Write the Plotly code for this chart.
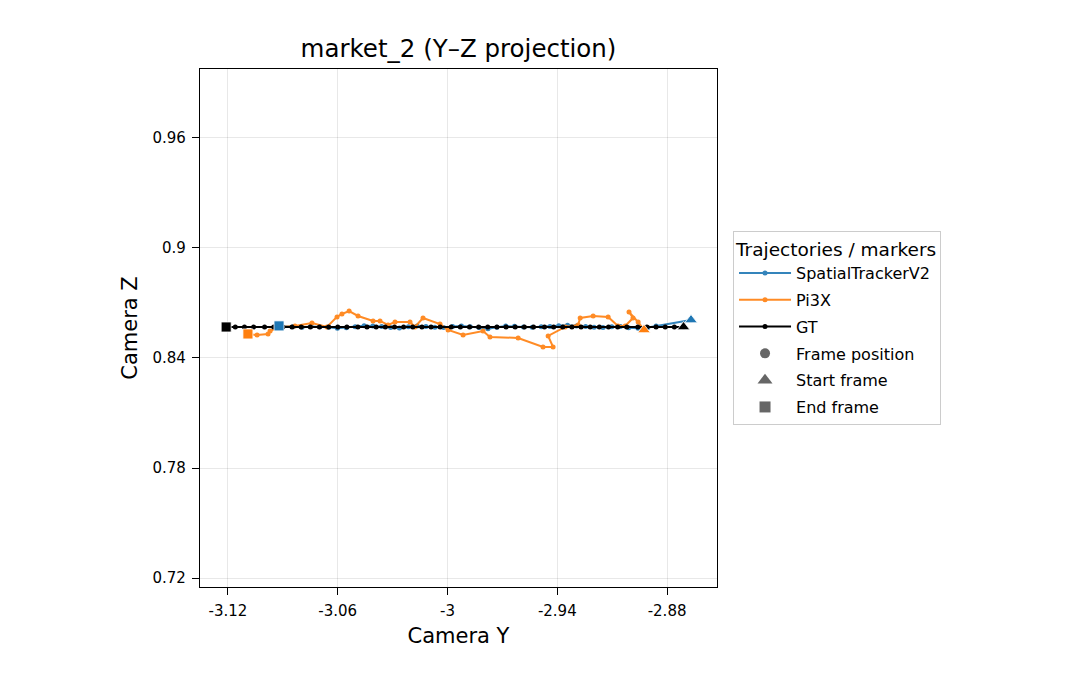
import plotly.graph_objects as go

# ---------------- data ----------------
gt_y = [-2.871, -2.876, -2.881, -2.886, -2.891, -2.896, -2.902, -2.907, -2.912, -2.917,
        -2.922, -2.927, -2.932, -2.937, -2.942, -2.947, -2.953, -2.958, -2.963, -2.968,
        -2.973, -2.978, -2.983, -2.988, -2.993, -2.998, -3.004, -3.009, -3.014, -3.019,
        -3.024, -3.029, -3.034, -3.039, -3.044, -3.049, -3.055, -3.060, -3.065, -3.070,
        -3.075, -3.080, -3.085, -3.090, -3.095, -3.100, -3.106, -3.111, -3.116, -3.121]
gt_z = [0.8569] * 50

st_y = [-2.8669, -2.8860, -2.8905, -2.8958, -2.9010, -2.9055, -2.9102, -2.9150, -2.9199, -2.9245,
        -2.9295, -2.9344, -2.9392, -2.9440, -2.9488, -2.9537, -2.9585, -2.9634, -2.9682, -2.9730,
        -2.9779, -2.9827, -2.9876, -2.9924, -2.9972, -3.0021, -3.0069, -3.0118, -3.0166, -3.0214,
        -3.0263, -3.0311, -3.0360, -3.0408, -3.0456, -3.0505, -3.0553, -3.0602, -3.0650, -3.0698,
        -3.0747, -3.0795, -3.0844, -3.0921]
st_z = [0.8607, 0.8574, 0.8566, 0.8562, 0.8565, 0.8572, 0.8570, 0.8566, 0.8568, 0.8571,
        0.8574, 0.8578, 0.8576, 0.8572, 0.8570, 0.8567, 0.8569, 0.8573, 0.8574, 0.8568,
        0.8560, 0.8566, 0.8570, 0.8574, 0.8571, 0.8566, 0.8568, 0.8572, 0.8575, 0.8570,
        0.8564, 0.8566, 0.8571, 0.8574, 0.8576, 0.8570, 0.8565, 0.8562, 0.8567, 0.8570,
        0.8572, 0.8568, 0.8570, 0.8575]

pi_y = [-2.8926, -2.8958, -2.9008, -2.8986, -2.9029, -2.9068, -2.9122, -2.9204, -2.9275, -2.9286,
        -2.9357, -2.9450, -2.9423, -2.9478, -2.9614, -2.9768, -2.9806, -2.9915, -2.9997, -3.0041,
        -3.0134, -3.0178, -3.0205, -3.0287, -3.0325, -3.0369, -3.0407, -3.0489, -3.0538, -3.0577,
        -3.0604, -3.0659, -3.0741, -3.0834, -3.0916, -3.0970, -3.0981, -3.1041, -3.1091]
pi_z = [0.8553, 0.8596, 0.8651, 0.8618, 0.8575, 0.8575, 0.8624, 0.8629, 0.8618, 0.8580,
        0.8569, 0.8520, 0.8460, 0.8460, 0.8509, 0.8515, 0.8547, 0.8525, 0.8553, 0.8585,
        0.8618, 0.8569, 0.8596, 0.8596, 0.8580, 0.8602, 0.8602, 0.8629, 0.8656, 0.8640,
        0.8624, 0.8569, 0.8591, 0.8575, 0.8569, 0.8547, 0.8531, 0.8525, 0.8531]

x_ticks = [-3.12, -3.06, -3.00, -2.94, -2.88]
x_tick_labels = ["-3.12", "-3.06", "-3", "-2.94", "-2.88"]
y_ticks = [0.72, 0.78, 0.84, 0.90, 0.96]
y_tick_labels = ["0.72", "0.78", "0.84", "0.9", "0.96"]

series = [
    ("SpatialTrackerV2", st_y, st_z, "#1f77b4"),
    ("Pi3X", pi_y, pi_z, "#ff7f0e"),
    ("GT", gt_y, gt_z, "#000000"),
]

FONT = "DejaVu Sans, Liberation Sans, sans-serif"
fig = go.Figure()

for name, ys, zs, col in series:
    fig.add_trace(go.Scatter(
        x=ys, y=zs, mode="lines+markers", name=name, legendgroup=name,
        line=dict(color=col, width=2),
        marker=dict(color=col, size=5, symbol="circle"),
        opacity=0.9 if name != "GT" else 1.0,
    ))

for name, ys, zs, col in series:
    fig.add_trace(go.Scatter(
        x=[ys[0]], y=[zs[0]], mode="markers", showlegend=False,
        marker=dict(color=col, size=11, symbol="triangle-up",
                    line=dict(color="white", width=0.8)),
    ))
    fig.add_trace(go.Scatter(
        x=[ys[-1]], y=[zs[-1]], mode="markers", showlegend=False,
        marker=dict(color=col, size=10, symbol="square",
                    line=dict(color="white", width=0.8)),
    ))

for label, sym, sz in [("Frame position", "circle", 10),
                       ("Start frame", "triangle-up", 13),
                       ("End frame", "square", 11)]:
    fig.add_trace(go.Scatter(
        x=[None], y=[None], mode="markers", name=label, legendgroup=label,
        marker=dict(color="#666666", size=sz, symbol=sym),
    ))

axis_common = dict(
    showgrid=True, gridcolor="rgba(0,0,0,0.09)", gridwidth=1,
    zeroline=False, showline=True, linecolor="black", linewidth=1.2,
    mirror=True, ticks="outside", ticklen=7, tickcolor="black",
    ticklabelstandoff=3,
    tickfont=dict(family=FONT, size=15, color="black"),
)

fig.update_layout(
    width=1080, height=690,
    paper_bgcolor="white", plot_bgcolor="white",
    margin=dict(l=200, r=363, t=69, b=103),
    title=dict(text="market_2 (Y–Z projection)", x=(200 + 717) / 2 / 1080,
               xanchor="center", y=1 - 48 / 690, yanchor="middle",
               font=dict(family=FONT, size=24.5, color="black")),
    xaxis=dict(range=[-3.1353, -2.8527], tickvals=x_ticks, ticktext=x_tick_labels,
               title=dict(text="Camera Y", font=dict(family=FONT, size=21, color="black"),
                          standoff=9),
               **axis_common),
    yaxis=dict(range=[0.7151, 0.9976], tickvals=y_ticks, ticktext=y_tick_labels,
               title=dict(text="Camera Z", font=dict(family=FONT, size=21, color="black"),
                          standoff=9),
               **axis_common),
    legend=dict(
        title=dict(text="Trajectories / markers", font=dict(family=FONT, size=18.5, color="black")),
        font=dict(family=FONT, size=16, color="black"),
        x=1.031, xanchor="left", y=0.5, yanchor="middle",
        bordercolor="#cccccc", borderwidth=1, bgcolor="white",
        tracegroupgap=3, itemwidth=52,
    ),
    showlegend=True,
)

fig.write_html("out.html")
